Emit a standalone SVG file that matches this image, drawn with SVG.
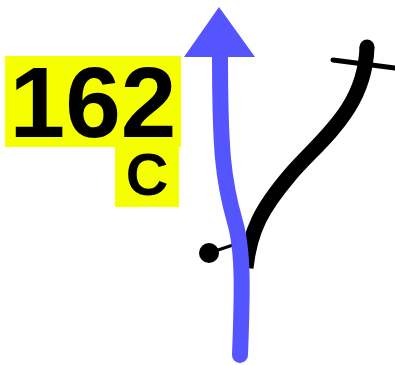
<svg xmlns="http://www.w3.org/2000/svg" width="395" height="365" viewBox="0 0 395 365">
<style>
.lbl{font-family:"Liberation Sans",Arial,sans-serif;font-weight:bold;fill:#000}
.box{fill:#f5ff00}
</style>
<rect width="395" height="365" fill="#fff"/>
<g id="connectors">
<path d="M367,47 C365,110 320,140 290,175 C262,208 250,230 246,268" fill="none" stroke="#000" stroke-width="15"/>
<circle cx="367" cy="47" r="7.5" fill="#000"/>
<line x1="333" y1="60" x2="395" y2="68" stroke="#000" stroke-width="5" stroke-linecap="round"/>
<line x1="209" y1="253" x2="236" y2="244" stroke="#000" stroke-width="3"/>
<circle cx="209" cy="253" r="10" fill="#000"/>
<path d="M220,55 C220,150 223,180 235,222 C244,252 242,300 240,355" fill="none" stroke="#5555ff" stroke-width="16" stroke-linecap="round"/>
<polygon points="219,7 184,57 255,57" fill="#5555ff"/>
</g>
<g id="label-162">
<rect class="box" x="5" y="56" width="176" height="91"/>
<text class="lbl" x="93" y="137" font-size="100" text-anchor="middle">162</text>
</g>
<g id="label-c">
<rect class="box" x="115" y="147" width="64" height="60"/>
<text class="lbl" x="147" y="195" font-size="59" text-anchor="middle">C</text>
</g>
</svg>
